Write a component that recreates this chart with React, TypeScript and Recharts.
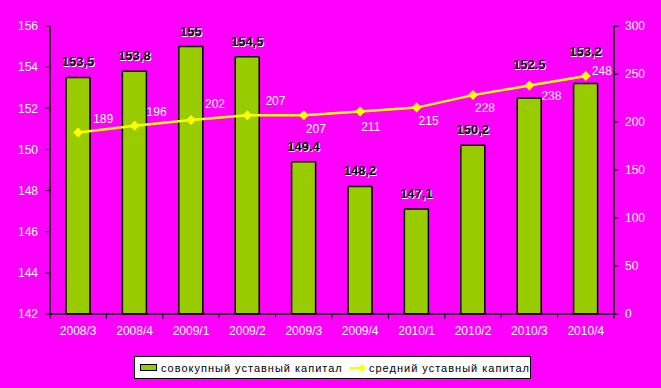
import React from "react"
import { ComposedChart, Bar, Line, XAxis, YAxis, LabelList } from "recharts"

const QUARTERS = ["2008/3", "2008/4", "2009/1", "2009/2", "2009/3", "2009/4", "2010/1", "2010/2", "2010/3", "2010/4"]
const TOTAL_CAPITAL = [153.5, 153.8, 155, 154.5, 149.4, 148.2, 147.1, 150.2, 152.5, 153.2]
const TOTAL_LABELS = ["153,5", "153,8", "155", "154,5", "149.4", "148,2", "147,1", "150,2", "152.5", "153,2"]
const AVG_CAPITAL = [189, 196, 202, 207, 207, 211, 215, 228, 238, 248]
const LEFT_TICKS = [142, 144, 146, 148, 150, 152, 154, 156]
const RIGHT_TICKS = [0, 50, 100, 150, 200, 250, 300]

const data = QUARTERS.map((q, i) => ({
  q,
  total: TOTAL_CAPITAL[i],
  totalLabel: TOTAL_LABELS[i],
  avg: AVG_CAPITAL[i],
}))

// where each average label sits relative to its point (text left edge, vertical centre)
const AVG_LABEL_OFFSET = [
  [15, -14], [12, -14], [14, -16], [18, -14], [2, 14],
  [1, 16], [2, 13], [2, 13], [12, 10], [6, -5],
]
// the last two bar labels are pushed up clear of the line
const BAR_LABEL_LIFT = [0, 0, 0, 0, 0, 0, 0, 0, 18, 17]

const FONT = "'Liberation Sans', Arial, sans-serif"
const HALF_BAND = 28.2

const XTick = (props: any) => {
  const { x, y, index } = props
  return (
    <g>
      <line x1={x - HALF_BAND} x2={x - HALF_BAND} y1={y} y2={y + 5} stroke="#000" />
      {index === QUARTERS.length - 1 && (
        <line x1={x + HALF_BAND} x2={x + HALF_BAND} y1={y} y2={y + 5} stroke="#000" />
      )}
      <text x={x} y={y + 21} textAnchor="middle" fill="#fff" fontSize={12} fontFamily={FONT}>
        {props.payload.value}
      </text>
    </g>
  )
}

const BarLabel = (props: any) => {
  const { x, y, width, value, index } = props
  const cx = x + width / 2
  const ty = y - 11 - BAR_LABEL_LIFT[index]
  return (
    <g fontFamily={FONT} fontSize={13} fontWeight="bold" textAnchor="middle">
      <text x={cx + 1} y={ty + 1} fill="#fff">{value}</text>
      <text x={cx} y={ty} fill="#000">{value}</text>
    </g>
  )
}

const AvgLabel = (props: any) => {
  const { x, y, value, index } = props
  const [dx, dy] = AVG_LABEL_OFFSET[index]
  return (
    <text x={x + dx} y={y + dy} dominantBaseline="central" fill="#fff" fontSize={12} fontFamily={FONT}>
      {value}
    </text>
  )
}

const Diamond = (props: any) => {
  const { cx, cy } = props
  if (cx == null || cy == null) return null
  return <path d={`M${cx},${cy - 5}L${cx + 5},${cy}L${cx},${cy + 5}L${cx - 5},${cy}Z`} fill="#ffff00" />
}

export default function App() {
  return (
    <div style={{ position: "fixed", left: 0, top: 0, width: 661, height: 388, background: "#ff00ff" }}>
      <ComposedChart
        width={661}
        height={388}
        data={data}
        margin={{ top: 26, right: 0, left: 0, bottom: 0 }}
      >
        <XAxis
          dataKey="q"
          height={74}
          axisLine={{ stroke: "#000", strokeWidth: 1.5 }}
          tickLine={false}
          tickSize={0}
          tickMargin={0}
          interval={0}
          tick={<XTick />}
        />
        <YAxis
          yAxisId="left"
          width={50}
          domain={[142, 156]}
          ticks={LEFT_TICKS}
          allowDataOverflow
          axisLine={{ stroke: "#000", strokeWidth: 1.5 }}
          tickLine={{ stroke: "#000" }}
          tickSize={5}
          tickMargin={7}
          tick={{ fill: "#fff", fontSize: 12, fontFamily: FONT }}
        />
        <YAxis
          yAxisId="right"
          orientation="right"
          width={47}
          domain={[0, 300]}
          ticks={RIGHT_TICKS}
          axisLine={{ stroke: "#000", strokeWidth: 1.5 }}
          tickLine={{ stroke: "#000" }}
          tickSize={5}
          tickMargin={6}
          tick={{ fill: "#fff", fontSize: 12, fontFamily: FONT }}
        />
        <Bar
          yAxisId="left"
          dataKey="total"
          barSize={24}
          fill="#99cc00"
          stroke="#000"
          strokeWidth={1.5}
          isAnimationActive={false}
        >
          <LabelList dataKey="totalLabel" content={<BarLabel />} />
        </Bar>
        <Line
          yAxisId="right"
          dataKey="avg"
          stroke="#ffff00"
          strokeWidth={2.5}
          dot={<Diamond />}
          activeDot={false}
          isAnimationActive={false}
        >
          <LabelList dataKey="avg" content={<AvgLabel />} />
        </Line>
      </ComposedChart>

      {/* legend */}
      <div
        style={{
          position: "absolute",
          left: 134,
          top: 356,
          width: 395,
          height: 21,
          background: "#fff",
          border: "1px solid #000",
          display: "flex",
          alignItems: "center",
          fontFamily: FONT,
          fontSize: 11,
          letterSpacing: "1px",
          color: "#000",
          whiteSpace: "nowrap",
        }}
      >
        <div style={{ width: 24, height: 5, marginLeft: 5, background: "#99cc00", border: "1px solid #000" }} />
        <span style={{ marginLeft: 4 }}>совокупный уставный капитал</span>
        <svg width={26} height={10} style={{ marginLeft: 6 }}>
          <line x1={0} x2={26} y1={5} y2={5} stroke="#ffff00" strokeWidth={2} />
          <path d="M13,1L17,5L13,9L9,5Z" fill="#ffff00" />
        </svg>
        <span style={{ marginLeft: 4 }}>средний уставный капитал</span>
      </div>
    </div>
  )
}
